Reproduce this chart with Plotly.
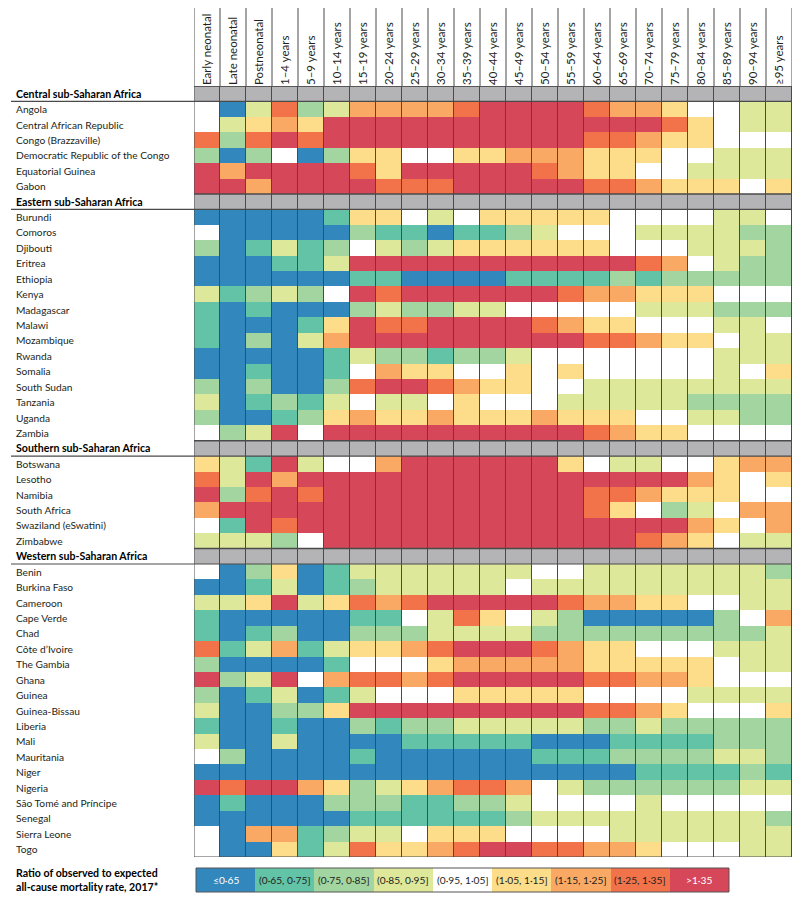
import plotly.graph_objects as go

# ---------------- data ----------------
columns = ["Early neonatal", "Late neonatal", "Postneonatal", "1–4 years", "5–9 years",
           "10–14 years", "15–19 years", "20–24 years", "25–29 years", "30–34 years",
           "35–39 years", "40–44 years", "45–49 years", "50–54 years", "55–59 years",
           "60–64 years", "65–69 years", "70–74 years", "75–79 years", "80–84 years",
           "85–89 years", "90–94 years", "≥95 years"]

bin_labels = ["≤0·65", "(0·65, 0·75]", "(0·75, 0·85]", "(0·85, 0·95]", "(0·95, 1·05]",
              "(1·05, 1·15]", "(1·15, 1·25]", "(1·25, 1·35]", ">1·35"]
bin_colors = ["#3288bd", "#62c3a6", "#a2d5a0", "#dde89a", "#ffffff",
              "#fddc8a", "#faa964", "#f2724a", "#d6475a"]
header_color = "#b4b4b6"

# values are the legend bin index (0 = ≤0·65 ... 8 = >1·35)
central_names = ["Angola", "Central African Republic", "Congo (Brazzaville)",
                 "Democratic Republic of the Congo", "Equatorial Guinea", "Gabon"]
central_bins = [
    [4,0,3,7,2,3,6,6,6,6,7,8,8,8,8,7,6,6,5,4,4,3,3],
    [4,3,5,6,5,8,8,8,8,8,8,8,8,8,8,8,8,8,7,5,4,3,3],
    [7,2,7,8,7,8,8,8,8,8,8,8,8,8,8,7,7,6,5,5,4,4,4],
    [2,0,2,4,0,2,5,5,4,4,5,5,6,6,6,5,5,5,4,4,3,3,3],
    [8,6,8,8,8,8,7,5,8,8,8,8,8,7,6,5,5,4,4,3,3,3,3],
    [8,8,6,8,8,8,8,7,7,7,8,8,8,8,8,7,7,6,5,5,5,4,5],
]

eastern_names = ["Burundi", "Comoros", "Djibouti", "Eritrea", "Ethiopia", "Kenya",
                 "Madagascar", "Malawi", "Mozambique", "Rwanda", "Somalia",
                 "South Sudan", "Tanzania", "Uganda", "Zambia"]
eastern_bins = [
    [0,0,0,0,0,1,5,5,4,3,4,5,5,5,5,5,4,4,4,4,3,3,4],
    [4,0,0,0,0,0,2,1,1,0,1,1,2,3,4,4,4,3,3,3,3,2,2],
    [2,0,1,3,1,2,4,3,2,3,5,5,5,5,5,5,4,4,4,3,3,3,2],
    [0,0,0,1,1,3,8,8,8,8,8,8,8,8,8,8,8,7,6,4,3,2,2],
    [0,0,0,0,0,0,1,1,0,0,0,0,1,1,1,1,2,1,2,2,2,2,2],
    [3,1,2,3,2,4,8,7,8,8,8,8,8,8,7,6,6,5,5,5,4,4,4],
    [1,0,1,0,0,0,2,3,2,2,3,3,4,4,4,4,4,3,3,3,2,2,2],
    [1,0,0,0,1,5,8,7,7,8,8,8,8,7,6,5,5,4,4,4,3,3,4],
    [1,0,2,0,3,6,8,8,8,8,8,8,8,8,8,7,7,6,5,5,4,3,3],
    [0,0,0,0,0,1,3,2,2,1,2,2,3,4,4,4,4,4,4,4,3,3,3],
    [0,0,1,0,0,1,4,6,5,5,4,4,5,4,5,4,4,4,4,4,3,4,5],
    [2,0,2,0,0,2,7,8,8,7,6,5,5,4,4,3,3,3,3,3,3,3,3],
    [3,0,1,2,1,3,4,3,3,4,5,4,4,4,3,3,3,3,3,2,2,2,2],
    [2,0,0,1,2,5,6,5,5,6,5,5,5,6,5,5,5,4,4,3,3,2,2],
    [4,2,3,8,4,8,8,8,8,8,8,8,8,8,8,7,6,5,5,4,4,4,4],
]

southern_names = ["Botswana", "Lesotho", "Namibia", "South Africa",
                  "Swaziland (eSwatini)", "Zimbabwe"]
southern_bins = [
    [5,3,1,8,3,4,4,6,8,8,8,8,8,8,5,4,3,3,4,4,5,6,6],
    [7,3,8,6,8,8,8,8,8,8,8,8,8,8,8,8,8,8,8,6,5,4,5],
    [8,2,7,8,7,8,8,8,8,8,8,8,8,8,8,7,7,6,5,5,5,4,4],
    [6,8,8,8,8,8,8,8,8,8,8,8,8,8,8,7,5,4,2,3,4,6,6],
    [4,1,8,7,8,8,8,8,8,8,8,8,8,8,8,8,8,8,8,6,5,4,6],
    [3,3,3,2,4,8,8,8,8,8,8,8,8,8,8,8,8,7,6,5,4,3,3],
]

western_names = ["Benin", "Burkina Faso", "Cameroon", "Cape Verde", "Chad",
                 "Côte d’Ivoire", "The Gambia", "Ghana", "Guinea", "Guinea-Bissau",
                 "Liberia", "Mali", "Mauritania", "Niger", "Nigeria",
                 "São Tomé and Príncipe", "Senegal", "Sierra Leone", "Togo"]
western_bins = [
    [4,0,2,5,0,1,3,3,3,3,3,3,3,4,4,3,3,3,3,3,3,3,2],
    [0,0,1,3,0,1,2,3,3,3,3,3,4,3,3,3,3,3,3,3,3,3,3],
    [3,3,5,8,3,5,7,6,7,8,8,8,8,8,7,6,6,5,5,4,4,3,3],
    [1,0,0,0,0,0,1,1,4,3,7,5,4,3,2,0,0,0,0,0,2,4,6],
    [1,0,1,2,0,0,2,2,2,3,3,3,3,2,2,2,2,2,2,2,2,2,3],
    [7,1,3,6,1,3,5,5,6,7,8,8,8,7,6,5,5,4,4,4,3,3,3],
    [2,0,0,0,0,1,4,4,4,5,6,6,6,6,6,5,5,5,5,5,4,3,3],
    [8,2,3,8,4,6,7,7,6,7,8,8,8,8,8,7,7,6,6,5,4,4,4],
    [2,0,1,3,0,1,3,4,4,4,5,5,5,5,5,4,4,4,4,3,3,3,3],
    [3,0,0,2,2,5,8,8,8,8,8,8,8,8,8,7,7,6,5,4,4,4,5],
    [1,0,0,1,0,0,2,1,2,2,3,3,3,3,3,2,2,3,2,2,2,2,2],
    [3,0,0,3,0,0,0,0,1,1,1,1,1,0,0,0,1,1,1,1,2,2,2],
    [4,2,0,0,0,0,1,0,0,0,0,0,0,1,1,1,2,2,2,2,3,3,2],
    [0,0,0,0,0,0,0,0,0,0,0,0,0,0,0,0,0,1,1,1,1,2,1],
    [8,7,8,8,6,5,2,3,5,6,7,7,6,4,3,2,2,2,2,2,2,3,3],
    [0,1,0,0,0,2,2,2,1,1,2,2,3,4,4,4,4,3,4,4,4,4,4],
    [0,0,0,0,0,0,1,1,1,1,1,1,2,3,3,3,3,3,3,3,3,3,2],
    [4,0,6,6,1,2,3,3,4,5,5,5,4,4,4,4,3,3,3,3,3,3,3],
    [4,0,0,5,1,3,7,5,5,6,7,8,8,7,7,6,6,5,4,4,4,3,3],
]

regions = ["Central sub-Saharan Africa", "Eastern sub-Saharan Africa",
           "Southern sub-Saharan Africa", "Western sub-Saharan Africa"]
region_names = [central_names, eastern_names, southern_names, western_names]
region_bins = [central_bins, eastern_bins, southern_bins, western_bins]

legend_title = ["Ratio of observed to expected", "all-cause mortality rate, 2017*"]

# ---------------- build rows ----------------
row_labels, row_is_header, z = [], [], []
for reg, names, bins in zip(regions, region_names, region_bins):
    row_labels.append(reg)
    row_is_header.append(True)
    z.append([0] * len(columns))           # 0 -> grey header band
    for n, b in zip(names, bins):
        row_labels.append(n)
        row_is_header.append(False)
        z.append([v + 1 for v in b])       # 1..9 -> legend bins

n_rows = len(row_labels)
n_cols = len(columns)

all_colors = [header_color] + bin_colors
ncat = len(all_colors)
cscale = []
for i, c in enumerate(all_colors):
    cscale.append([i / ncat, c])
    cscale.append([(i + 1) / ncat, c])

FONT = "Lato, Roboto, sans-serif"
TXT = "#231f20"

# ---------------- geometry (pixels in the page; page body has an 8px margin) ----------------
OFF = 8
W, H = 800 - OFF, 906 - OFF
L, R = 194 - OFF, 792 - OFF
T, B = 86 - OFF, 893 - OFF
grid_bottom = 857 - OFF
leg_top, leg_bottom = 868 - OFF, 892 - OFF
leg_left, leg_right = 196 - OFF, 729 - OFF
label_x = 15 - OFF
PW, PH = R - L, B - T


def py(pix):  # figure pixel y -> paper y
    return (B - pix) / PH


def px(pix):  # figure pixel x -> paper x
    return (pix - L) / PW


fig = go.Figure()
fig.add_trace(go.Heatmap(
    z=z, x=list(range(n_cols)), y=list(range(n_rows)),
    colorscale=cscale, zmin=-0.5, zmax=ncat - 0.5, showscale=False,
    xgap=1, ygap=0, hoverinfo="skip", xaxis="x", yaxis="y"))

fig.add_trace(go.Heatmap(
    z=[[i + 1 for i in range(len(bin_labels))]], x=list(range(len(bin_labels))), y=[0],
    colorscale=cscale, zmin=-0.5, zmax=ncat - 0.5, showscale=False,
    hoverinfo="skip", xaxis="x2", yaxis="y2"))

shapes = []
line_col = "#4a4a4a"
shapes.append(dict(type="rect", xref="x", yref="y", x0=-0.5, x1=n_cols - 0.5,
                   y0=-0.5, y1=n_rows - 0.5, line=dict(color=line_col, width=1)))
for i, h in enumerate(row_is_header):
    if h:
        shapes.append(dict(type="line", xref="x", yref="y", x0=-0.5, x1=n_cols - 0.5,
                           y0=i - 0.5, y1=i - 0.5, line=dict(color=line_col, width=1.5)))
        shapes.append(dict(type="line", xref="paper", yref="y", x0=px(label_x - 4), x1=1,
                           y0=i + 0.5, y1=i + 0.5, line=dict(color=line_col, width=1.2)))
for k in range(n_cols + 1):
    shapes.append(dict(type="line", xref="x", yref="paper", x0=k - 0.5, x1=k - 0.5,
                       y0=1, y1=py(0), line=dict(color=line_col, width=1)))
shapes.append(dict(type="rect", xref="x2 domain", yref="y2 domain", x0=0, x1=1, y0=0, y1=1,
                   line=dict(color="#555555", width=1)))

annotations = []
for i, (lab, h) in enumerate(zip(row_labels, row_is_header)):
    annotations.append(dict(
        x=px(label_x), y=i, xref="paper", yref="y", xanchor="left", yanchor="middle",
        text=f"<b>{lab}</b>" if h else lab, showarrow=False, borderpad=0,
        font=dict(family=FONT, size=10.6 if h else 10.2, color="#000000" if h else TXT)))
for i, lab in enumerate(bin_labels):
    annotations.append(dict(
        x=i, y=0, xref="x2", yref="y2", text=lab, showarrow=False,
        font=dict(family=FONT, size=10.2, color="#ffffff" if i in (0, 8) else TXT)))
for txt, ypix in zip(legend_title, (873 - OFF, 887 - OFF)):
    annotations.append(dict(x=px(label_x), y=py(ypix), xref="paper", yref="paper",
                            xanchor="left", yanchor="middle", text=f"<b>{txt}</b>",
                            showarrow=False, borderpad=0,
                            font=dict(family=FONT, size=10.6, color="#000000")))

fig.update_layout(
    width=W, height=H,
    margin=dict(l=L, r=W - R, t=T, b=H - B, pad=0, autoexpand=False),
    paper_bgcolor="white", plot_bgcolor=line_col,
    font=dict(family=FONT, color=TXT),
    xaxis=dict(domain=[0, 1], range=[-0.5, n_cols - 0.5], side="top",
               tickmode="array", tickvals=list(range(n_cols)), ticktext=columns,
               tickangle=-90, tickfont=dict(family=FONT, size=11.5, color=TXT),
               showgrid=False, zeroline=False, showline=False, ticks="",
               anchor="y", fixedrange=True, automargin=False),
    yaxis=dict(domain=[py(grid_bottom), 1], range=[n_rows - 0.5, -0.5],
               showticklabels=False, showgrid=False, zeroline=False, ticks="",
               anchor="x", fixedrange=True, automargin=False),
    xaxis2=dict(domain=[px(leg_left), px(leg_right)], range=[-0.5, len(bin_labels) - 0.5],
                showticklabels=False, showgrid=False, zeroline=False, ticks="",
                anchor="y2", fixedrange=True, automargin=False),
    yaxis2=dict(domain=[py(leg_bottom), py(leg_top)], range=[-0.5, 0.5],
                showticklabels=False, showgrid=False, zeroline=False, ticks="",
                anchor="x2", fixedrange=True, automargin=False),
    shapes=shapes, annotations=annotations, showlegend=False,
)

fig.write_html("out.html")
